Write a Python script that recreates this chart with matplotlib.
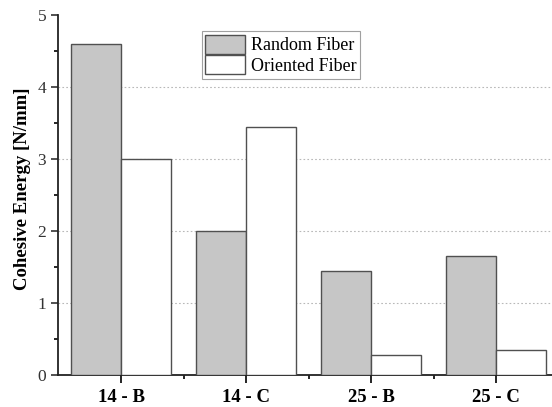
import numpy as np
import matplotlib
matplotlib.use("Agg")
import matplotlib.pyplot as plt
from matplotlib.ticker import MultipleLocator, FixedLocator

categories = ["14 - B", "14 - C", "25 - B", "25 - C"]
random_fiber = [4.6, 2.0, 1.45, 1.65]
oriented_fiber = [3.0, 3.45, 0.28, 0.35]
y_ticks = [0, 1, 2, 3, 4, 5]

plt.rcParams["font.family"] = ["Liberation Serif", "DejaVu Serif"]

fig = plt.figure(figsize=(5.52, 4.07), dpi=100)
ax = fig.add_axes([58 / 552, 1 - 375 / 407, 1 - 58 / 552, (375 - 15) / 407])

x = np.arange(len(categories))
w = 0.4
edge = "#505050"
ax.bar(x - w, random_fiber, width=w, align="edge", color="#c6c6c6",
       edgecolor=edge, linewidth=1.0, label="Random Fiber", zorder=3)
ax.bar(x, oriented_fiber, width=w, align="edge", color="white",
       edgecolor=edge, linewidth=1.0, label="Oriented Fiber", zorder=3)

# dotted horizontal guides at the inner y ticks
for yv in y_ticks[1:-1]:
    ax.axhline(yv, color="#b8b8b8", linestyle=(0, (1.5, 2)), linewidth=0.8, zorder=1)

ax.set_xlim(-0.504, 3.448)
ax.set_ylim(0, 5)
ax.set_yticks(y_ticks)
ax.yaxis.set_minor_locator(MultipleLocator(0.5))
ax.set_xticks(x)
ax.set_xticklabels(categories, fontweight="bold", fontsize=13.5)
ax.xaxis.set_minor_locator(FixedLocator(x[:-1] + 0.5))
ax.tick_params(axis="y", which="major", direction="out", length=5, width=1.2, labelsize=12.5, colors="#333333")
ax.tick_params(axis="y", which="minor", direction="out", length=3, width=1.2)
ax.tick_params(axis="x", which="major", direction="out", length=6, width=1.2, pad=4)
ax.tick_params(axis="x", which="minor", direction="out", length=3, width=1.2)

for s in ["top", "right"]:
    ax.spines[s].set_visible(False)
for s in ["left", "bottom"]:
    ax.spines[s].set_linewidth(1.3)
    ax.spines[s].set_color("#222222")

ax.set_ylabel("Cohesive Energy [N/mm]", fontweight="bold", fontsize=13.5)
ax.yaxis.set_label_coords(-0.055, 0.517)

leg = ax.legend(loc="upper left", bbox_to_anchor=(0.291, 0.955), fontsize=13,
                frameon=True, fancybox=False, edgecolor="#888888",
                handlelength=2.2, handleheight=1.25, handletextpad=0.3,
                labelspacing=0.05, borderpad=0.2, borderaxespad=0)
leg.get_frame().set_linewidth(0.8)

fig.savefig("out.png", dpi=100)
